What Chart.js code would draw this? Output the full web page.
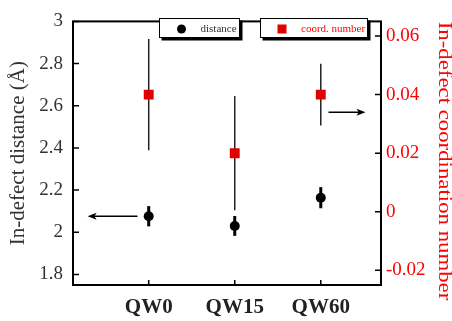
<!DOCTYPE html>
<html><head><meta charset="utf-8">
<script src="https://cdn.jsdelivr.net/npm/chart.js@4"></script>
<style>html,body{margin:0;padding:0;background:#fff}#wrap{width:452px;height:321px}</style>
</head><body><div id="wrap"><canvas id="c" width="452" height="321"></canvas></div>
<script>
// ---- data ----
const categories = ['QW0', 'QW15', 'QW60'];
const categoryPos = [1, 2, 3];
const distance = [2.076, 2.030, 2.164];
const distanceErr = [0.048, 0.047, 0.050];
const coordNumber = [0.040, 0.020, 0.040];
const coordErr = [0.019, 0.0195, 0.0105];
const leftTicks = [1.8, 2.0, 2.2, 2.4, 2.6, 2.8, 3.0];
const rightTicks = [-0.02, 0, 0.02, 0.04, 0.06];
const leftRange = [1.75, 3.0];
const rightRange = [-0.025, 0.065];
const xRange = [0.12, 3.7];
// arrows showing which axis each series belongs to (data coordinates)
const arrowLeft = { x0: 0.87, x1: 0.29, y: 2.076 };
const arrowRight = { x0: 3.09, x1: 3.52, y: 0.034 };

const SERIF = '"Liberation Serif", "Times New Roman", serif';
const RED = '#f00';
const SQ_RED = '#e00000';

function drawArrow(ctx, x0, y0, x1, y1) {
  const dir = Math.sign(x1 - x0);
  const head = 9, hw = 3.5;
  ctx.save();
  ctx.strokeStyle = '#000'; ctx.fillStyle = '#000'; ctx.lineWidth = 1.5;
  ctx.beginPath(); ctx.moveTo(x0, y0); ctx.lineTo(x1 - dir * head * 0.6, y1); ctx.stroke();
  ctx.beginPath(); ctx.moveTo(x1, y1); ctx.lineTo(x1 - dir * head, y1 - hw); ctx.lineTo(x1 - dir * head * 0.75, y1); ctx.lineTo(x1 - dir * head, y1 + hw); ctx.closePath(); ctx.fill();
  ctx.restore();
}

const decor = {
  id: 'decor',
  beforeDatasetsDraw(chart) {
    const { ctx, scales: { x, y, y2 } } = chart;
    ctx.save();
    // coord. number error bars
    ctx.strokeStyle = '#222'; ctx.lineWidth = 1.5;
    categoryPos.forEach((c, i) => {
      const px = x.getPixelForValue(c);
      ctx.beginPath();
      ctx.moveTo(px, y2.getPixelForValue(coordNumber[i] + coordErr[i]));
      ctx.lineTo(px, y2.getPixelForValue(coordNumber[i] - coordErr[i]));
      ctx.stroke();
    });
    // distance error bars
    ctx.strokeStyle = '#000'; ctx.lineWidth = 3;
    categoryPos.forEach((c, i) => {
      const px = x.getPixelForValue(c);
      ctx.beginPath();
      ctx.moveTo(px, y.getPixelForValue(distance[i] + distanceErr[i]));
      ctx.lineTo(px, y.getPixelForValue(distance[i] - distanceErr[i]));
      ctx.stroke();
    });
    ctx.restore();
    drawArrow(ctx, x.getPixelForValue(arrowLeft.x0), y.getPixelForValue(arrowLeft.y),
      x.getPixelForValue(arrowLeft.x1), y.getPixelForValue(arrowLeft.y));
    drawArrow(ctx, x.getPixelForValue(arrowRight.x0), y2.getPixelForValue(arrowRight.y),
      x.getPixelForValue(arrowRight.x1), y2.getPixelForValue(arrowRight.y));
  },
  afterDraw(chart) {
    const { ctx, chartArea: a, scales: { x, y, y2 } } = chart;
    ctx.save();
    // frame
    ctx.strokeStyle = '#000'; ctx.lineWidth = 2;
    ctx.strokeRect(a.left, a.top, a.right - a.left, a.bottom - a.top);
    // inward ticks
    ctx.lineWidth = 1.5;
    const tl = 6;
    ctx.beginPath();
    leftTicks.forEach(v => { const p = y.getPixelForValue(v); ctx.moveTo(a.left, p); ctx.lineTo(a.left + tl, p); });
    rightTicks.forEach(v => { const p = y2.getPixelForValue(v); ctx.moveTo(a.right, p); ctx.lineTo(a.right - tl, p); });
    categoryPos.forEach(v => { const p = x.getPixelForValue(v); ctx.moveTo(p, a.bottom); ctx.lineTo(p, a.bottom - tl + 1); });
    ctx.stroke();
    // legend boxes with shadow
    const box = (bx, by, bw, bh) => {
      ctx.fillStyle = '#000'; ctx.fillRect(bx + 2.5, by + 2.5, bw, bh);
      ctx.fillStyle = '#fff'; ctx.fillRect(bx, by, bw, bh);
      ctx.strokeStyle = '#000'; ctx.lineWidth = 1; ctx.strokeRect(bx + 0.5, by + 0.5, bw - 1, bh - 1);
    };
    box(159, 18, 81, 20);
    box(260, 18, 108, 20);
    ctx.fillStyle = '#000';
    ctx.beginPath(); ctx.arc(181.5, 29, 4.5, 0, Math.PI * 2); ctx.fill();
    ctx.fillStyle = SQ_RED; ctx.fillRect(277.5, 24.5, 9, 9);
    ctx.font = '11px ' + SERIF; ctx.textBaseline = 'middle'; ctx.textAlign = 'left';
    ctx.fillStyle = '#333'; ctx.fillText(chart.data.datasets[0].label, 200.5, 29);
    ctx.fillStyle = RED; ctx.fillText(chart.data.datasets[1].label, 301, 29);
    // right axis title (condensed serif, reads top to bottom)
    ctx.translate(444, 161); ctx.rotate(Math.PI / 2); ctx.scale(1.2, 1);
    ctx.font = '19px ' + SERIF; ctx.textAlign = 'center'; ctx.textBaseline = 'middle';
    ctx.fillStyle = RED; ctx.fillText('In-defect coordination number', 0, 0);
    ctx.restore();
  }
};

const fmt = v => String(+Number(v).toFixed(3));

new Chart(document.getElementById('c'), {
  type: 'scatter',
  data: {
    datasets: [
      { label: 'distance', data: categoryPos.map((c, i) => ({ x: c, y: distance[i] })), yAxisID: 'y',
        pointStyle: 'circle', pointRadius: 5, backgroundColor: '#000', borderColor: '#000', borderWidth: 0 },
      { label: 'coord. number', data: categoryPos.map((c, i) => ({ x: c, y: coordNumber[i] })), yAxisID: 'y2',
        pointStyle: 'rect', pointRadius: 7, backgroundColor: SQ_RED, borderColor: SQ_RED, borderWidth: 0 }
    ]
  },
  options: {
    responsive: false, animation: false,
    layout: { padding: { top: 13, left: 0, right: 0, bottom: 0 } },
    plugins: { legend: { display: false }, tooltip: { enabled: false } },
    scales: {
      x: {
        type: 'linear', position: 'bottom', min: xRange[0], max: xRange[1],
        grid: { display: false, drawTicks: false }, border: { display: false },
        afterBuildTicks: s => { s.ticks = categoryPos.map(v => ({ value: v })); },
        ticks: { callback: (v, i) => categories[i], font: { family: SERIF, size: 21, weight: 'bold' },
          color: '#222', padding: 10, maxRotation: 0, autoSkip: false },
        afterFit: s => { s.height = 36; }
      },
      y: {
        type: 'linear', position: 'left', min: leftRange[0], max: leftRange[1],
        grid: { display: false, drawTicks: false }, border: { display: false },
        afterBuildTicks: s => { s.ticks = leftTicks.map(v => ({ value: v })); },
        ticks: { callback: fmt, font: { family: SERIF, size: 19 }, color: '#333', padding: 10, autoSkip: false },
        title: { display: true, text: 'In-defect distance (Å)', font: { family: SERIF, size: 21 }, color: '#333', padding: { top: 6, bottom: 0 } },
        afterFit: s => { s.width = 73; }
      },
      y2: {
        type: 'linear', position: 'right', min: rightRange[0], max: rightRange[1],
        grid: { display: false, drawTicks: false }, border: { display: false },
        afterBuildTicks: s => { s.ticks = rightTicks.map(v => ({ value: v })); },
        ticks: { callback: fmt, font: { family: SERIF, size: 19 }, color: RED, padding: 5, autoSkip: false },
        afterFit: s => { s.width = 71; }
      }
    }
  },
  plugins: [decor]
});
</script></body></html>
